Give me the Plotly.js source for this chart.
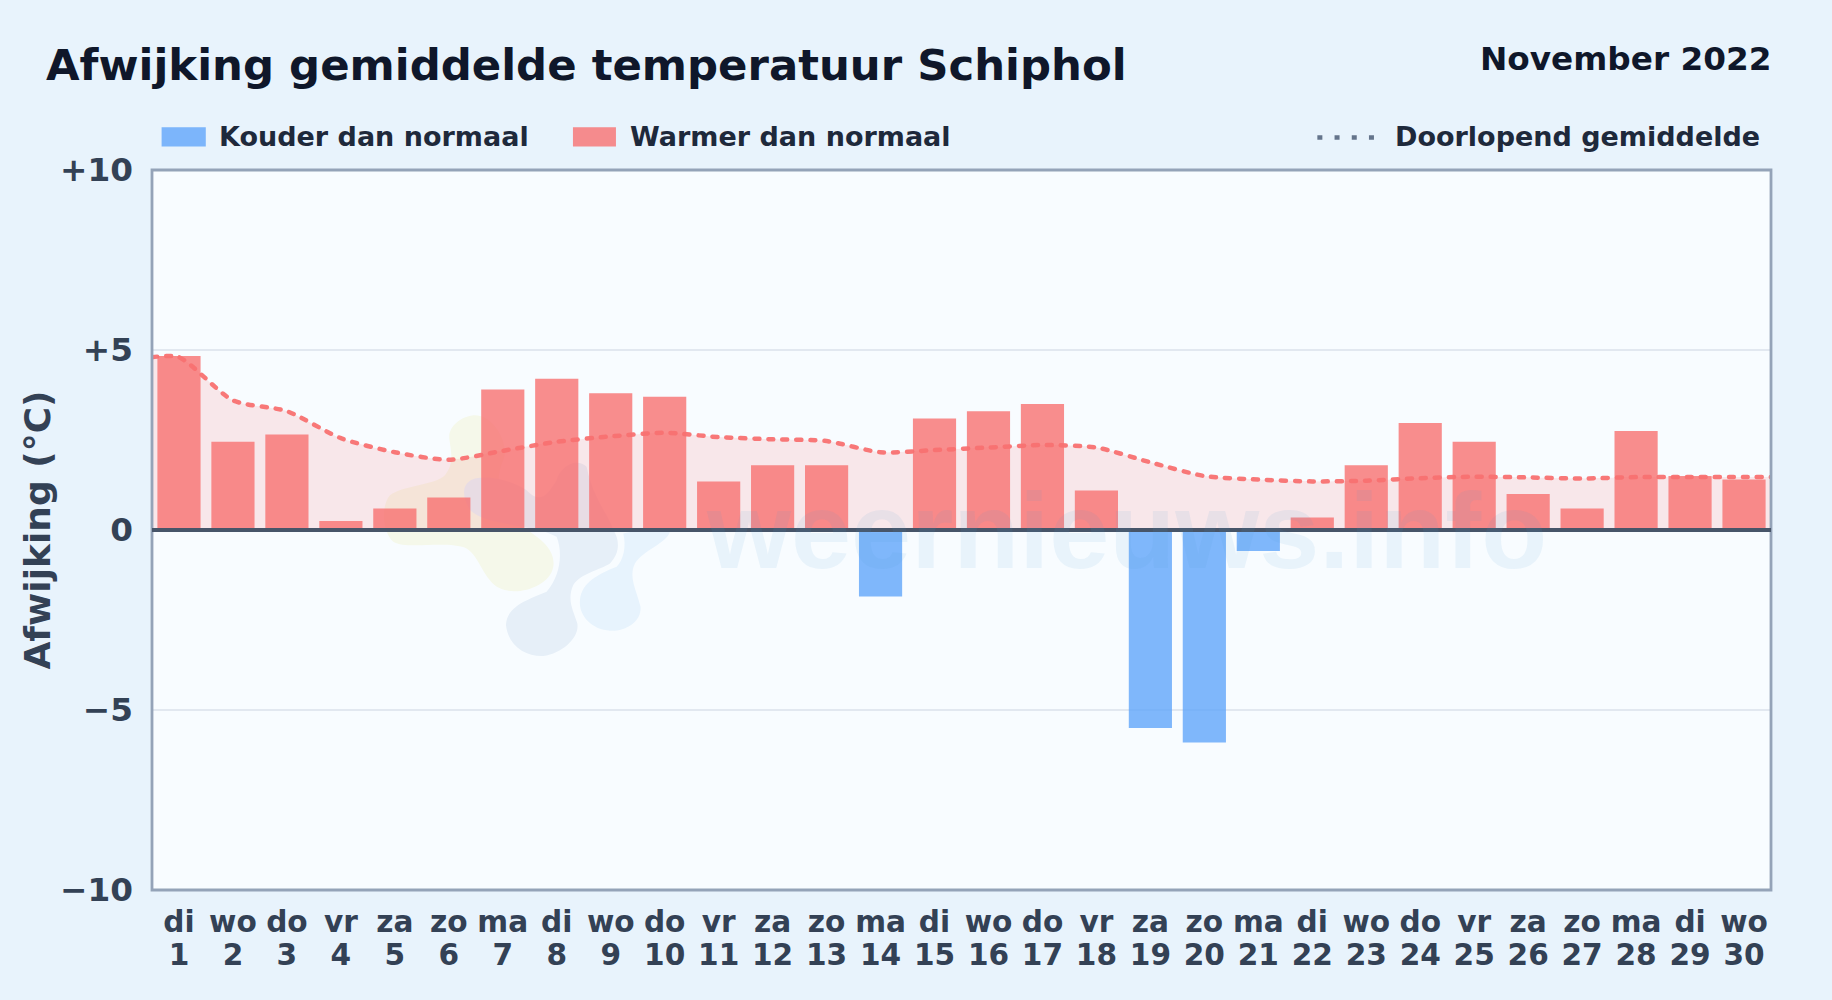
<!DOCTYPE html>
<html><head><meta charset="utf-8">
<script src="https://cdn.plot.ly/plotly-3.0.1.min.js"></script>
<style>
html,body{margin:0;padding:0;background:#e8f3fc;}
#chart{width:1832px;height:1000px;}
.scatterlayer .js-line{stroke-linecap:round;}
</style></head><body><div id="chart"></div>
<script>
const days=[1,2,3,4,5,6,7,8,9,10,11,12,13,14,15,16,17,18,19,20,21,22,23,24,25,26,27,28,29,30];
const weekdays=['di','wo','do','vr','za','zo','ma','di','wo','do','vr','za','zo','ma','di','wo','do','vr','za','zo','ma','di','wo','do','vr','za','zo','ma','di','wo'];
const anomaly=[4.83,2.45,2.65,0.25,0.6,0.9,3.9,4.2,3.8,3.7,1.35,1.8,1.8,-1.85,3.1,3.3,3.5,1.1,-5.5,-5.9,-0.58,0.35,1.8,2.97,2.45,1.0,0.6,2.75,1.5,1.4];
const runX=[0.5,1,2,3,4,5,6,7,8,9,10,11,12,13,14,15,16,17,18,19,20,21,22,23,24,25,26,27,28,29,30,30.5];
const runMean=[4.8,4.8,3.6,3.3,2.55,2.16,1.95,2.2,2.45,2.6,2.7,2.58,2.52,2.47,2.16,2.22,2.29,2.36,2.29,1.88,1.5,1.4,1.35,1.37,1.44,1.48,1.46,1.43,1.47,1.47,1.47,1.47];
const yTicks=[10,5,0,-5,-10];
const yLabels=['+10','+5','0','−5','−10'];
const FONT='"DejaVu Sans"';
const b=s=>'<b>'+s+'</b>';
const traces=[
 {type:'scatter',mode:'lines',x:runX,y:runMean,fill:'tozeroy',fillcolor:'rgba(248,113,113,0.15)',
  line:{color:'rgba(0,0,0,0)',width:0,shape:'spline',smoothing:0.7},hoverinfo:'skip',showlegend:false},
 {type:'bar',x:days,y:anomaly,width:0.8,
  marker:{color:anomaly.map(v=>v<0?'rgba(96,165,250,0.8)':'rgba(248,113,113,0.8)'),line:{width:0}},showlegend:false},
 {type:'scatter',mode:'lines',x:runX,y:runMean,xaxis:'x2',
  line:{color:'rgba(248,113,113,0.95)',width:4.5,dash:'5px,9px',shape:'spline',smoothing:0.7},hoverinfo:'skip',showlegend:false}
];
const L=152,R=1771.2,T=169.5,B=890.3;
const px=v=>(v-L)/(R-L), py=v=>(B-v)/(B-T);
const mkLegend=(x,t,anchor)=>({xref:'paper',yref:'paper',x:px(x),y:py(136),text:b(t),showarrow:false,xanchor:anchor||'left',yanchor:'middle',font:{family:FONT,size:27,color:'#1e293b'}});
const blob='<svg xmlns="http://www.w3.org/2000/svg" width="360" height="270" viewBox="0 0 1080 810">'+
 '<path fill="#f5f8ea" d="M340 45C300 50 265 80 268 115C272 150 285 190 255 225C225 255 130 255 90 285C60 320 70 400 100 425C140 450 260 420 320 445C360 470 370 540 420 565C470 590 570 560 580 500C590 440 520 400 470 370C420 340 400 240 430 180C450 130 400 40 340 45Z"/>'+
 '<path fill="#e6eff8" d="M345 235C310 245 300 280 330 330C380 380 520 370 590 410C610 460 600 530 560 575C500 600 440 620 438 675C445 740 500 770 550 768C610 760 660 710 652 670C640 630 620 600 640 555C660 520 720 510 750 490C780 460 780 420 760 390C750 350 700 300 680 200C650 170 600 200 590 240C560 290 540 310 500 270C450 240 390 225 345 235Z"/>'+
 '<path fill="#e7f3fd" d="M660 600C665 545 720 520 770 500C790 480 800 440 790 400C830 390 900 380 930 395C920 430 850 450 825 490C805 530 830 570 842 620C845 670 790 695 750 692C700 690 655 650 660 600Z"/>'+
 '</svg>';
const layout={
 width:1832,height:1000,autosize:false,
 paper_bgcolor:'#e8f3fc',plot_bgcolor:'#f8fcff',
 margin:{l:L,r:1832-R,t:T,b:1000-B},
 font:{family:FONT},
 bargap:0.2,hovermode:false,
 title:{text:b('Afwijking gemiddelde temperatuur Schiphol'),x:46/1832,xanchor:'left',y:1-65/1000,yanchor:'middle',font:{family:FONT,size:43.4,color:'#0f172a'}},
 xaxis:{range:[0.5,30.5],tickmode:'array',tickvals:days,ticktext:weekdays.map(b),
  tickfont:{family:FONT,size:29.6,color:'#334155'},ticks:'',showgrid:false,zeroline:false,showline:false,ticklabelstandoff:11,tickangle:0},
 xaxis2:{overlaying:'x',anchor:'y',side:'bottom',range:[0.5,30.5],tickmode:'array',tickvals:days,ticktext:days.map(d=>b(String(d))),
  tickfont:{family:FONT,size:29.6,color:'#334155'},ticks:'',showgrid:false,zeroline:false,showline:false,ticklabelstandoff:44,tickangle:0},
 yaxis:{range:[-10,10],tickmode:'array',tickvals:yTicks,ticktext:yLabels.map(b),
  tickfont:{family:FONT,size:32.7,color:'#334155'},ticks:'',showgrid:true,gridcolor:'#e2e8f0',gridwidth:2,zeroline:false,showline:false,ticklabelstandoff:18,
  title:{text:b('Afwijking (°C)'),standoff:0,font:{family:FONT,size:36,color:'#334155'}}},
 images:[{source:'data:image/svg+xml;utf8,'+encodeURIComponent(blob),xref:'paper',yref:'paper',x:px(360),y:py(400),sizex:360/(R-L),sizey:270/(B-T),sizing:'stretch',xanchor:'left',yanchor:'top',layer:'below'}],
 annotations:[
  {xref:'paper',yref:'paper',x:px(1773),y:py(58),xanchor:'right',yanchor:'middle',showarrow:false,text:b('November 2022'),font:{family:FONT,size:32.7,color:'#0f172a'}},
  mkLegend(217.2,'Kouder dan normaal'),
  mkLegend(628.2,'Warmer dan normaal'),
  mkLegend(1762,'Doorlopend gemiddelde','right'),
  {xref:'paper',yref:'paper',x:px(1127),y:py(530),xanchor:'center',yanchor:'middle',showarrow:false,text:b('weernieuws.info'),font:{family:'"Liberation Sans"',size:108,color:'rgba(80,150,210,0.09)'}}
 ],
 shapes:[
  {type:'rect',xref:'paper',yref:'paper',x0:0,x1:1,y0:0,y1:1,fillcolor:'rgba(0,0,0,0)',line:{color:'#94a3b8',width:2.8},layer:'above'},
  {type:'line',xref:'paper',yref:'y',x0:0,x1:1,y0:0,y1:0,line:{color:'#475569',width:4},layer:'above'},
  {type:'rect',xref:'paper',yref:'paper',x0:px(161.6),x1:px(205.8),y0:py(126.7),y1:py(146),fillcolor:'rgba(96,165,250,0.8)',line:{width:0}},
  {type:'rect',xref:'paper',yref:'paper',x0:px(573),x1:px(616),y0:py(126.7),y1:py(146),fillcolor:'rgba(248,113,113,0.8)',line:{width:0}},
  {type:'line',xref:'paper',yref:'paper',x0:px(1317.5),x1:px(1375),y0:py(137),y1:py(137),line:{color:'#64748b',width:4.5,dash:'5px,12.2px'}}
 ]
};
Plotly.newPlot('chart',traces,layout,{displayModeBar:false,staticPlot:true}).then(()=>{
  const t=document.querySelector('.ytitle');
  if(t) t.setAttribute('transform','translate(2.3,0) '+(t.getAttribute('transform')||''));
});
</script></body></html>
